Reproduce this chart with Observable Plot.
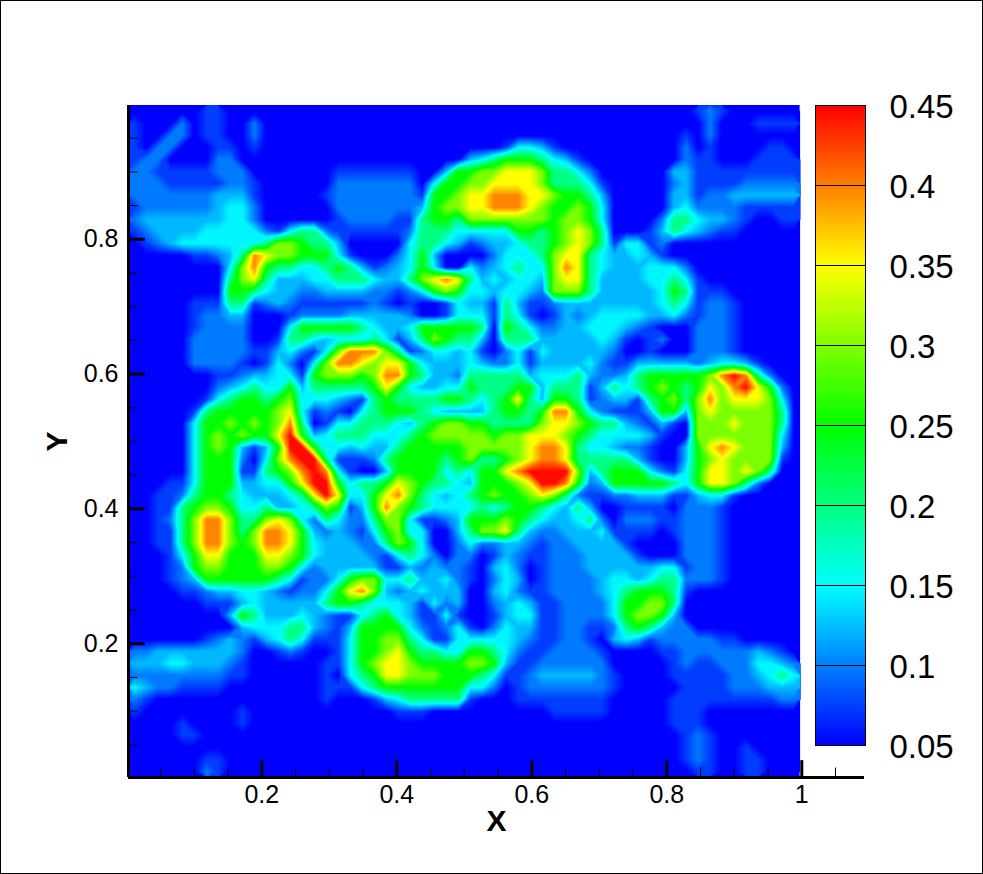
<!DOCTYPE html>
<html>
<head>
<meta charset="utf-8">
<script src="https://cdn.jsdelivr.net/npm/d3@7"></script>
<script src="https://cdn.jsdelivr.net/npm/@observablehq/plot@0.6"></script>
<style>
html,body{margin:0;padding:0;background:#fff}
#page{position:relative;width:983px;height:874px;overflow:hidden;box-sizing:border-box}
#page>svg{position:absolute}
#edge{position:absolute;left:0;top:0;width:983px;height:874px;box-sizing:border-box;border:1px solid #000;pointer-events:none}
</style>
</head>
<body>
<div id="page"><div id="edge"></div></div>
<script>
// Field level: each character picks an entry of `levels`.
const levels = [0.05,0.075,0.1,0.125,0.15,0.2,0.25,0.3,0.35,0.4,0.45];
const fieldLeft = [
"00000011",
"10002011002",
"10022011002",
"10220001101",
"122000022",
"2211111222000000011111110036",
"2221111122100000022222220466",
"2222222333100000122222221667",
"1222222344200000022222223677",
"2333333344200000012222115665",
"1233334444421455211111125554",
"0123444444457765530000045543",
"0000011235987766641000246300",
"0000000047965544565312346400",
"0000000057853334455543357898",
"0000000066543322333322124676",
"0000011155123211111121010014",
"0000012233000122223333320014",
"0000012222000466666543346666",
"0000022222001554344454135765",
"0000022222113421479997512443",
"0000022221014204799878864333",
"0000000112334416777679965332",
"0000000234544635555568643344",
"0000001456656744432156555566",
"0000015666667841210456665433",
"0000046676767950144555435677",
"000004676766 8a63455544456777",
"0000046763136aa6443433566666",
"0000046662047 9aa5111256666 56",
"0000046661156 79a9 4100 36666 45",
"00011 46663344 68aa 6455 68765 54",
"00112 56654333 458a 8446 89754 34",
"00115 67764453 3457 6136 97654 44",
"00125 79975578 7425 4225 77411 23",
"00115 79975799 8632 3214 67440 03",
"00115 79976799 8643 3322 57640 02",
"00014 68866688 7643 3332 14542 02",
"00012 67766677 6423 3333 11323 22",
"00012 36666665 4122 4677 44533 42",
"00001 12334432 1224 6897 32343 33",
"00000 01113433 3335 6654 44314 23",
"00000 00036533 3432 1145 64311 41",
"00000 00003444 5532 1366 66421 24",
"00000 01232134 5411 1466 77541 14",
"22333 33332001 2100 1466 78655 44",
"33344 33321000 0001 1467 88766 66",
"22222 22211000 0001 0456 88777 66",
"43221 11100000 0001 1145 66666 66",
"21000 00000000 0001 0001 34555 55",
"1 00000000 1 000000000000 111",
"0000100001",
"000011",
"",
"00000011",
"00000021"
];
const fieldRight = [
"0000000 0000000 0000012 1000000",
"0000000 0000000 0000002 0001111",
"0000000 0000000 0000102 0000000",
"0001443 1000000 0000201 0000110",
"3456665 4310000 0000211 0001111",
"6778887 5542000 0003311 1111111",
"7788887 5554100 0002311 1122222",
"8899988 7665300 0003312 2333333",
"8899987 6676400 0003422 2211111",
"7777777 6776400 0025543 3210011",
"4444665 6787500 0135432 1100000",
"1233455 6787514 4120000 0000000",
"0024445 7885433 4310000 0000000",
"4234544 7985433 3444200 0000000",
"5343443 7885333 3445410 0000000",
"4434432 7775333 3346511 1000000",
"3315311 2333333 3345412 2100000",
"4415410 1323444 4334212 2100000",
"6506542 2334443 2100022 2100000",
"5305553 3333431 0120022 2100000",
"4102414 3333320 0100022 2100000",
"4322413 3334211 3333323 4431000",
"5555534 4453223 5666667 9a95200",
"6555663 5551354 5676568 79a8620",
"5456853 6651233 1567579 7888740",
"3356656 9964211 1366378 7777750",
"6655557 8876553 2131077 7877750",
"7767788 8765444 4310077 7777740",
"7777789 9854432 2100368 9877730",
"7556789 9855555 3100367 8777710",
"46689aa aa73566 6421468 8787500",
"366678a a962366 6665468 8752000",
"5676678 7521122 3331134 4100000",
"4545665 4353001 1110222 1000000",
"6667654 3345202 2211222 1000000",
"5778532 2333411 1101222 1000000",
"4223321 2233331 0000222 1000000",
"2013211 2223333 1000222 1000000",
"1034201 2223333 3344122 1000000",
"1024301 2222344 3455222 1000000",
"0034211 2222345 6665100 0000000",
"0023431 1222246 6775000 0000000",
"0013441 1222246 7763000 0000000",
"1024331 1221125 6532200 0000000",
"4444321 1221034 3122222 1100000",
"6654211 2222100 0011222 2223210",
"7763112 2222200 0001211 2224432",
"6541123 3333210 0001111 1223454",
"4420122 2222210 0000111 1222333",
"1000111 1111100 0001111 1111122",
"0000000 1111100 0001110 0000000",
"0000000 0000000 0001110 0000000",
"0000000 0000000 0000121 0000000",
"0000000 0000000 0000121 0010000",
"0000000 0000000 0000121 0011000",
"0000000 0000000 0000011 0011000"
];
const colorStops = [0.05,0.15,0.25,0.35,0.45];
const colorRange = ["#0000ff","#00ffff","#00ff00","#ffff00","#ff0000"];
const xMajor = [0.2,0.4,0.6,0.8,1];
const xMinor = [0.05,0.1,0.15,0.25,0.3,0.35,0.45,0.5,0.55,0.65,0.7,0.75,0.85,0.9,0.95,1.05];
const yMajor = [0.2,0.4,0.6,0.8];
const yMinor = [0.05,0.1,0.15,0.25,0.3,0.35,0.45,0.5,0.55,0.65,0.7,0.75,0.85,0.9,0.95];
const barTicks = [0.05,0.1,0.15,0.2,0.25,0.3,0.35,0.4,0.45];
const shadeSteps = d3.range(0.05,0.45,0.004);

const clean = s => s.replace(/ /g,"");
const nCols = 56, nRows = fieldLeft.length;
const cells = [];
for (let r = 0; r < nRows; r++) {
  const row = clean(fieldLeft[r]).padEnd(28,"0").slice(0,28) + clean(fieldRight[r]).padEnd(28,"0").slice(0,28);
  for (const ch of row) cells.push(levels[parseInt(ch,16)]);
}
const color = {type:"linear",domain:colorStops,range:colorRange,interpolate:"rgb",clamp:true};
const font = "'Liberation Sans',Arial,sans-serif";
const X0 = 0.0025, XE = 0.9975, X1 = 1.0929, Y0 = 0.0015, Y1 = 0.9985;

const main = Plot.plot({
  width:983,height:874,
  marginLeft:128,marginRight:119,marginTop:105,marginBottom:97,
  x:{domain:[X0,X1]},
  y:{domain:[Y0,Y1]},
  color,
  style:{fontFamily:font,background:"transparent",color:"#000"},
  marks:[
    Plot.rect([0],{x1:X0,x2:XE,y1:Y0,y2:Y1,fill:colorRange[0]}),
    Plot.contour(cells,{width:nCols,height:nRows,x1:X0,x2:XE,y1:Y1,y2:Y0,fill:Plot.identity,thresholds:shadeSteps,smooth:true}),
    Plot.ruleX(xMinor,{y1:Y0,y2:Y0+0.014,stroke:"#000",strokeWidth:1}),
    Plot.ruleX(xMajor,{y1:Y0,y2:Y0+0.025,stroke:"#000",strokeWidth:3}),
    Plot.ruleY(yMinor,{x1:X0,x2:X0+0.014,stroke:"#000",strokeWidth:1}),
    Plot.ruleY(yMajor,{x1:X0,x2:X0+0.025,stroke:"#000",strokeWidth:3}),
    Plot.ruleY([Y0],{x1:X0,x2:X1,stroke:"#000",strokeWidth:3}),
    Plot.ruleX([X0],{y1:Y0,y2:Y1,stroke:"#000",strokeWidth:3}),
    Plot.axisX({ticks:xMajor,tickSize:0,tickPadding:8,fontSize:25,label:null,tickFormat:d=>String(d)}),
    Plot.axisY({ticks:yMajor,tickSize:0,tickPadding:10,fontSize:25,label:null,tickFormat:d=>String(d)}),
    Plot.text(["X"],{frameAnchor:"bottom",dy:53,fontSize:30,fontWeight:"bold",fill:"#000"}),
    Plot.text(["Y"],{frameAnchor:"left",dx:-71,rotate:-90,textAnchor:"middle",fontSize:30,fontWeight:"bold",fill:"#000"})
  ]
});
main.style.left="0";main.style.top="0";

const bar = Plot.plot({
  width:168,height:680,
  marginLeft:0,marginRight:118,marginTop:20,marginBottom:20,
  x:{domain:[0,1],axis:null},
  y:{domain:[0.05,0.45]},
  color,
  style:{fontFamily:font,background:"transparent",color:"#000"},
  marks:[
    Plot.raster({x1:0,x2:1,y1:0.05,y2:0.45,fill:(x,y)=>y}),
    Plot.ruleY(barTicks,{stroke:"#000",strokeWidth:1}),
    Plot.frame({stroke:"#000",strokeWidth:1}),
    Plot.axisY({ticks:barTicks,anchor:"right",tickSize:0,tickPadding:24,fontSize:33,label:null,tickFormat:d=>String(d),dy:2})
  ]
});
bar.style.left="815px";bar.style.top="85px";
bar.style.overflow="visible";

const page = document.getElementById("page");
page.insertBefore(main,page.firstChild);
page.insertBefore(bar,main.nextSibling);
</script>
</body>
</html>
